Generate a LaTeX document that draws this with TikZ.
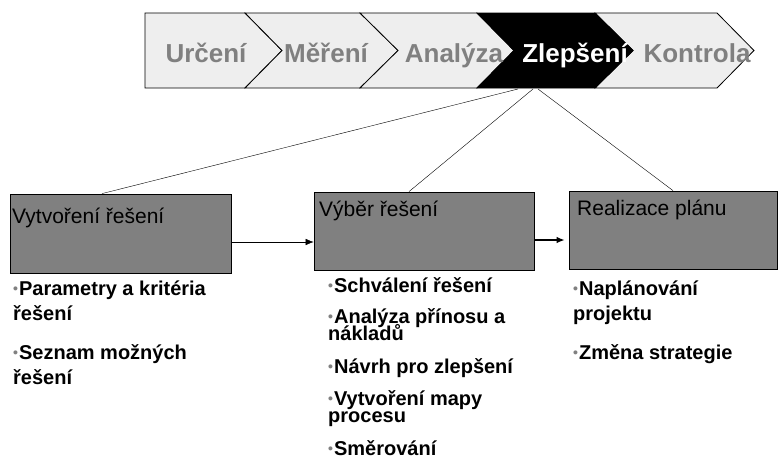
\documentclass[tikz,border=0pt]{standalone}
\usepackage{fontspec}
\setmainfont{Liberation Sans}
\usetikzlibrary{arrows.meta,calc,positioning}

\definecolor{barfill}{HTML}{EEEEEE}
\definecolor{midgray}{HTML}{808080}

\newcommand{\bul}{\textcolor{midgray}{\fontsize{14}{14}\selectfont\raisebox{1.5pt}{\textbullet}}\hspace{1pt}}
\newcommand{\tightfont}{\fontsize{20}{17}\selectfont\bfseries\setlength{\lineskiplimit}{-30pt}\relax}

\begin{document}
\begin{tikzpicture}
[
	               x = 1pt, y = -1pt,
	              >= {Latex[length=8pt,width=6.5pt]},
	 chevron/.style = { draw=black, fill=barfill, line width=0.8pt },
	     hot/.style = { chevron, fill=black },
	   phase/.style = { font=\fontsize{26}{26}\selectfont\bfseries, text=midgray, inner sep=0pt, anchor=base },
	stagebox/.style = { draw=black, fill=midgray, line width=0.8pt, inner sep=0pt },
	boxtitle/.style = { font=\fontsize{21}{21}\selectfont, inner sep=0pt, anchor=base west },
	    item/.style = { font=\fontsize{20}{25}\selectfont\bfseries, align=left, inner sep=0pt, anchor=base west },
	   tight/.style = { item, font=\tightfont }
]
	\useasboundingbox (0,0) rectangle (778,463);

	% phase bar
	\draw [chevron] (145,13) -- (245,13) -- (282,50.5) -- (245,88) -- (145,88) -- cycle;
	\draw [chevron] (245,13) -- (360,13) -- (398,50.5) -- (360,88) -- (245,88) -- (282,50.5) -- cycle;
	\draw [chevron] (360,13) -- (477,13) -- (514,50.5) -- (477,88) -- (360,88) -- (398,50.5) -- cycle;
	\draw [chevron] (595,13) -- (717,13) -- (754,50.5) -- (717,88) -- (595,88) -- (633,50.5) -- cycle;
	\draw [hot]     (477,13) -- (595,13) -- (633,50.5) -- (595,88) -- (477,88) -- (514,50.5) -- cycle;

	\node (urc) at (206,62) [phase] {Určení};
	\node (mer) at (326,62) [phase] {Měření};
	\node (ana) at (454,62) [phase] {Analýza};
	\node (zle) at (575,62) [phase, text=white] {Zlepšení};
	\node (kon) at (697,62) [phase] {Kontrola};

	\coordinate (zl1) at (518,89);
	\coordinate (zl2) at (533,89);
	\coordinate (zl3) at (538,89);

	% stages
	\node (b1) at (120.5,233.5) [stagebox, minimum width=221pt, minimum height=79pt] {};
	\node (b2) at (424,231)     [stagebox, minimum width=220pt, minimum height=78pt] {};
	\node (b3) at (673,230)     [stagebox, minimum width=208pt, minimum height=78pt] {};

	\node (t1) at (12,223)  [boxtitle] {Vytvoření řešení};
	\node (t2) at (319,216) [boxtitle] {Výběr řešení};
	\node (t3) at (577,215) [boxtitle] {Realizace plánu};

	\draw (zl1) -- ([xshift=-18.5pt]b1.north);
	\draw (zl2) -- ([xshift=-15pt]b2.north);
	\draw (zl3) -- (b3.north);

	\draw [->] ([yshift=-8.5pt]b1.east) -- ([yshift=-8.5pt]b1.east -| b2.west);
	\draw [->, line width=1.2pt, shorten >=4pt] ([yshift=-9pt]b2.east) -- ([yshift=-9pt]b2.east -| b3.west);

	% activities (base = last line)
	\node (a1) at (13,320)  [item] {\bul Parametry a kritéria\\řešení};
	\node (a2) at (13,384)  [item] {\bul Seznam možných\\řešení};

	\node (c1) at (328,292) [item]  {\bul Schválení řešení};
	\node (c2) at (328,340) [tight] {\bul Analýza přínosu a\\nákladů};
	\node (c3) at (328,373) [item]  {\bul Návrh pro zlepšení};
	\node (c4) at (328,422) [tight] {\bul Vytvoření mapy\\procesu};
	\node (c5) at (328,455) [item]  {\bul Směrování};

	\node (r1) at (573,320) [item] {\bul Naplánování\\projektu};
	\node (r2) at (573,359) [item] {\bul Změna strategie};

\end{tikzpicture}
\end{document}
